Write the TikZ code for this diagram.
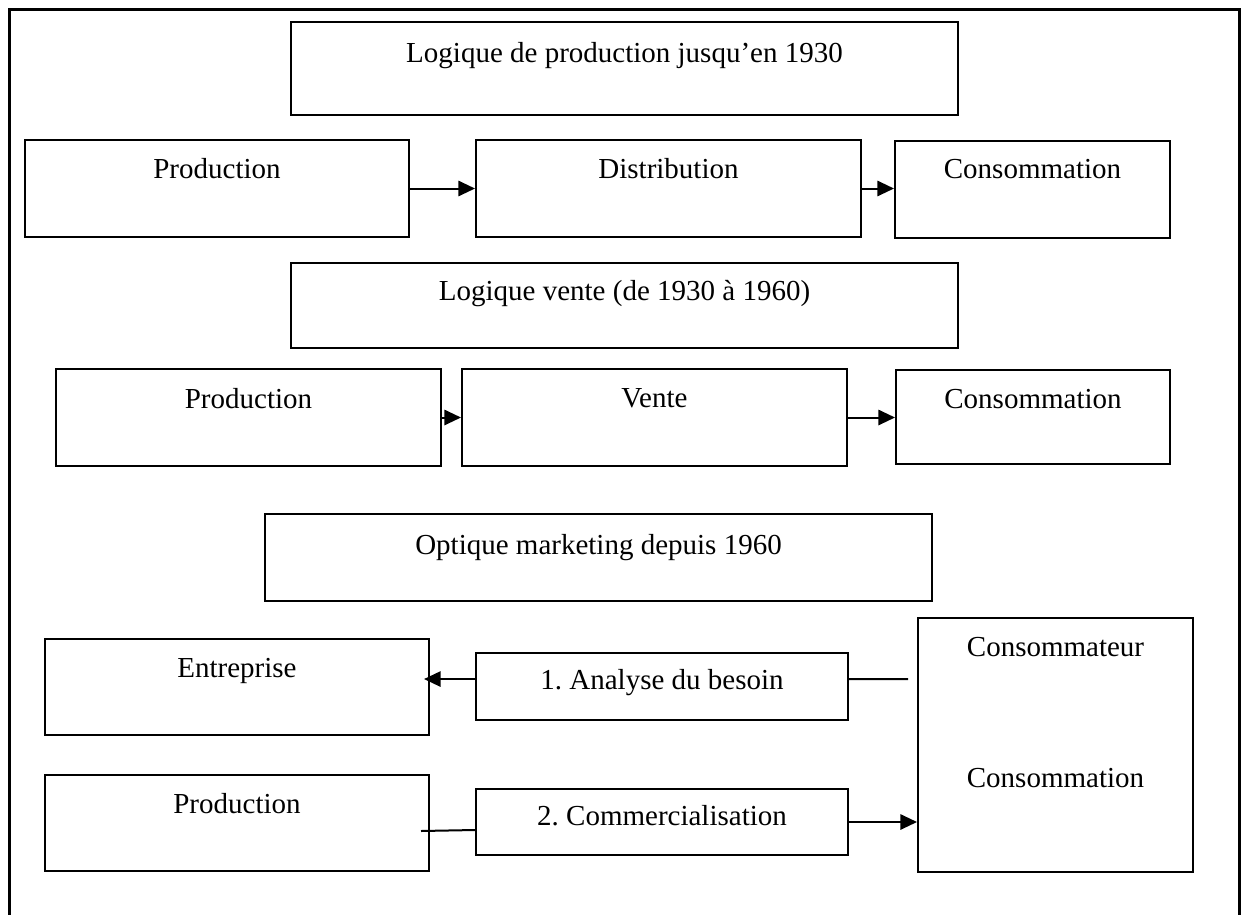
\documentclass[tikz,border=0pt]{standalone}
\usepackage{fontspec}
\setmainfont{Liberation Serif}
\usetikzlibrary{arrows.meta,fit}
\frenchspacing
\begin{document}
\begin{tikzpicture}[x=0.75pt,y=-0.75pt,
  stage/.style={draw=black, line width=1.5pt, inner sep=0pt},
  lbl/.style={anchor=base, inner sep=0pt, font=\fontsize{21.75}{26}\selectfont},
  flow/.style={line width=1.5pt, -{Triangle[length=12.5pt,width=11.5pt]}},
  link/.style={line width=1.5pt},
  frame/.style={line width=2.25pt}]

\useasboundingbox (0,0) rectangle (1249,914);
% outer frame, open at the bottom
\draw[frame] (9,920) -- (9,9) -- (1239,9) -- (1239,920);

% --- production logic
\node[stage, fit={(291,22) (958,115)}] (t1) {};
\node[lbl] (t1t) at (624.5,62) {Logique de production jusqu’en 1930};
\node[stage, fit={(25,140) (409,237)}] (p1) {};
\node[lbl] (p1t) at (217,178) {Production};
\node[stage, fit={(476,140) (861,237)}] (d1) {};
\node[lbl] (d1t) at (668.5,178) {Distribution};
\node[stage, fit={(895,141) (1170,238)}] (c1) {};
\node[lbl] (c1t) at (1032.5,178) {Consommation};
\draw[flow] (p1.east) -- (d1.west |- p1.east);
\draw[flow] (d1.east) -- (c1.west |- d1.east);

% --- sales logic
\node[stage, fit={(291,263) (958,348)}] (t2) {};
\node[lbl] (t2t) at (624.5,300) {Logique vente (de 1930 à 1960)};
\node[stage, fit={(56,369) (441,466)}] (p2) {};
\node[lbl] (p2t) at (248.5,408) {Production};
\node[stage, fit={(462,369) (847,466)}] (v2) {};
\node[lbl] (v2t) at (654.5,407) {Vente};
\node[stage, fit={(896,370) (1170,464)}] (c2) {};
\node[lbl] (c2t) at (1033,408) {Consommation};
\draw[flow] (p2.east) -- (v2.west |- p2.east);
\draw[flow] (v2.east) -- (c2.west |- v2.east);

% --- marketing view
\node[stage, fit={(265,514) (932,601)}] (t3) {};
\node[lbl] (t3t) at (598.5,554) {Optique marketing depuis 1960};
\node[stage, fit={(45,639) (429,735)}] (e3) {};
\node[lbl] (e3t) at (237,677) {Entreprise};
\node[stage, fit={(476,653) (848,720)}] (a3) {};
\node[lbl] (a3t) at (662,689) {1. Analyse du besoin};
\node[stage, fit={(45,775) (429,871)}] (p3) {};
\node[lbl] (p3t) at (237,813) {Production};
\node[stage, fit={(476,789) (848,855)}] (m3) {};
\node[lbl] (m3t) at (662,825) {2. Commercialisation};
\node[stage, fit={(918,618) (1193,872)}] (k3) {};
\node[lbl] (k3t) at (1055.5,656) {Consommateur};
\node[lbl] (k3b) at (1055.5,787) {Consommation};

\coordinate (aw) at ([yshift=5.6pt]a3.west);
\coordinate (ae) at ([yshift=5.6pt]a3.east);
\coordinate (kfree) at (908,679);
\coordinate (pin) at (421,831);
\draw[flow, shorten >=-4.5pt] (aw) -- (e3.east |- aw);
\draw[link] (ae) -- (kfree);
\draw[link] (pin) -- ([yshift=-6pt]m3.west);
\draw[flow] (m3.east) -- (k3.west |- m3.east);
\end{tikzpicture}
\end{document}
